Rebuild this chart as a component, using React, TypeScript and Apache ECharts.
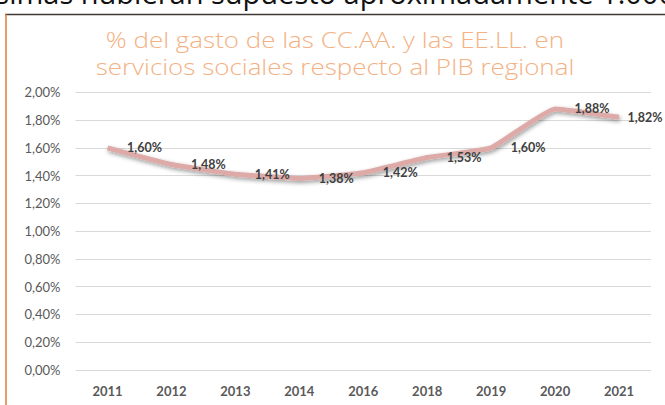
import React, { useEffect, useRef } from "react";
import * as echarts from "echarts";

const years = ["2011", "2012", "2013", "2014", "2016", "2018", "2019", "2020", "2021"];
const values = [1.6, 1.48, 1.41, 1.38, 1.42, 1.53, 1.6, 1.88, 1.82];
const yMin = 0;
const yMax = 2;
const yStep = 0.2;
const titleLines = ["% del gasto de las CC.AA. y las EE.LL. en", "servicios sociales respecto al PIB regional"];
const bodyText = "ísimas hubieran supuesto aproximadamente 1.000";

const pct = (v: number) => v.toFixed(2).replace(".", ",") + "%";

export default function App() {
  const ref = useRef<HTMLDivElement>(null);
  useEffect(() => {
    document.body.style.margin = "0";
    const chart = echarts.init(ref.current!, null, { renderer: "svg" });
    const titleStyle = {
      fontFamily: "Open Sans",
      fontWeight: 300,
      fontSize: 22,
      fill: "#F4B183",
      align: "center",
      verticalAlign: "middle",
    };
    chart.setOption({
      animation: false,
      backgroundColor: "#ffffff",
      graphic: [
        {
          type: "text",
          x: -12,
          y: -22,
          silent: true,
          style: {
            text: bodyText,
            fontFamily: "Open Sans",
            fontSize: 29,
            fill: "#111111",
          },
        },
        {
          type: "line",
          silent: true,
          shape: { x1: 5, y1: 14.5, x2: 665, y2: 14.5 },
          style: { stroke: "#3F3835", lineWidth: 1.5 },
        },
        {
          type: "line",
          silent: true,
          shape: { x1: 6, y1: 14, x2: 6, y2: 405 },
          style: { stroke: "#E07B39", lineWidth: 1.5 },
        },
        {
          type: "text",
          x: 335,
          y: 39,
          scaleX: 1.18,
          silent: true,
          style: { ...titleStyle, text: titleLines[0] },
        },
        {
          type: "text",
          x: 335,
          y: 66,
          scaleX: 1.18,
          silent: true,
          style: { ...titleStyle, text: titleLines[1] },
        },
      ],
      grid: { left: 75.5, right: 14, top: 92.3, bottom: 35 },
      xAxis: {
        type: "category",
        data: years,
        boundaryGap: true,
        axisLine: { show: false },
        axisTick: { show: false },
        axisLabel: {
          margin: 14,
          fontFamily: "Lato",
          fontWeight: "bold",
          fontSize: 13,
          color: "#595959",
        },
      },
      yAxis: {
        type: "value",
        min: yMin,
        max: yMax,
        interval: yStep,
        axisLine: { show: false },
        axisTick: { show: false },
        splitLine: { lineStyle: { color: "#D9D9D9", width: 1 } },
        axisLabel: {
          margin: 15,
          fontFamily: "Lato",
          fontSize: 13,
          color: "#595959",
          formatter: (v: number) => pct(v),
        },
      },
      series: [
        {
          type: "line",
          data: values.map((v, i) =>
            i === values.length - 1 ? { value: v, label: { distance: 8 } } : v
          ),
          smooth: 0.12,
          symbol: "circle",
          symbolSize: 1,
          itemStyle: { color: "rgba(0,0,0,0)", borderWidth: 0 },
          lineStyle: {
            color: "#DDAAA8",
            width: 5,
            join: "round",
            cap: "butt",
            shadowColor: "rgba(0,0,0,0.4)",
            shadowBlur: 4,
            shadowOffsetX: 1,
            shadowOffsetY: 2,
          },
          label: {
            show: true,
            position: "right",
            distance: 19,
            fontFamily: "Lato",
            fontWeight: "bold",
            fontSize: 12.5,
            color: "#404040",
            formatter: (p: any) => pct(p.value),
          },
        },
      ],
    });
    return () => chart.dispose();
  }, []);
  return <div ref={ref} style={{ width: 665, height: 405 }} />;
}
